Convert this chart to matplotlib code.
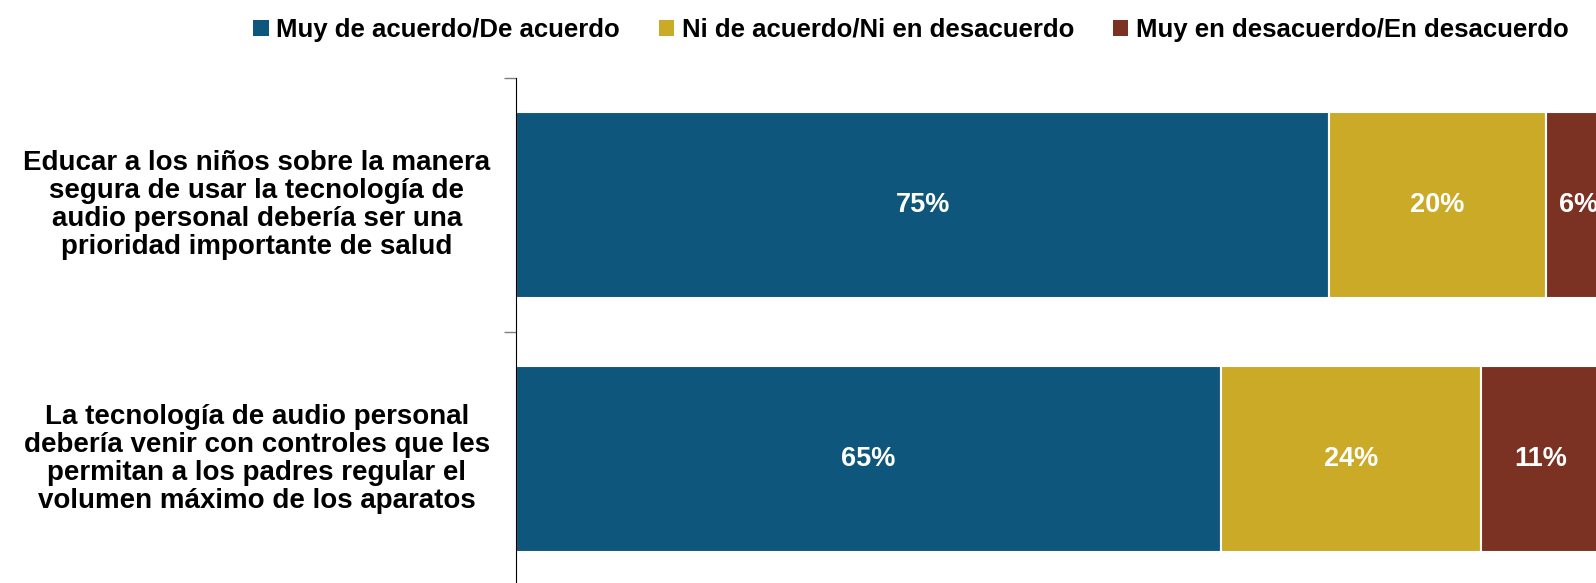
import matplotlib.pyplot as plt
from matplotlib.patches import Patch

plt.rcParams['font.family'] = ['Liberation Sans', 'DejaVu Sans']

# --- datos ---
categorias = [
    "Educar a los niños sobre la manera\nsegura de usar la tecnología de\naudio personal debería ser una\nprioridad importante de salud",
    "La tecnología de audio personal\ndebería venir con controles que les\npermitan a los padres regular el\nvolumen máximo de los aparatos",
]
series = ["Muy de acuerdo/De acuerdo", "Ni de acuerdo/Ni en desacuerdo", "Muy en desacuerdo/En desacuerdo"]
de_acuerdo = [75, 65]
neutral = [20, 24]
desacuerdo = [6, 11]
colores = ['#0E567C', '#CBAA28', '#7B3222']

fig = plt.figure(figsize=(15.96, 5.83), dpi=100, facecolor='white')
ax = fig.add_axes([516 / 1596, 1 - 586 / 583, 1 - 516 / 1596, (586 - 78) / 583])

y = list(range(len(categorias)))
izq = [0] * len(y)
for vals, col in zip([de_acuerdo, neutral, desacuerdo], colores):
    bars = ax.barh(y, vals, left=izq, height=0.73, color=col, edgecolor='white', linewidth=1.5)
    for b, v, l in zip(bars, vals, izq):
        ax.text(l + v / 2, b.get_y() + b.get_height() / 2, f"{v}%", ha='center', va='center',
                color='white', fontsize=19.5, fontweight='bold')
    izq = [a + b for a, b in zip(izq, vals)]

ax.set_xlim(0, 99.6)
ax.set_ylim(1.5, -0.5)
ax.set_xticks([])
ax.set_yticks([-0.5, 0.5, 1.5])
ax.set_yticklabels([])
ax.tick_params(axis='y', length=9, color='#808080', width=1)
for s in ['top', 'right', 'bottom']:
    ax.spines[s].set_visible(False)
ax.spines['left'].set_color('black')

# etiquetas de categoría centradas a la izquierda del eje
for yi, txt in zip(y, categorias):
    ax.text(-23.9, yi, txt, ha='center', va='center', fontsize=20, fontweight='bold',
            linespacing=1.1, clip_on=False)

handles = [Patch(facecolor=c, edgecolor='none') for c in colores]
fig.legend(handles, series, loc='upper right', bbox_to_anchor=(0.994, 1.0), ncol=3, frameon=False,
           prop={'size': 18.5, 'weight': 'bold'}, handlelength=0.6, handleheight=0.6,
           handletextpad=0.3, columnspacing=1.5, borderaxespad=0.3)

fig.savefig('out.png', dpi=100)
